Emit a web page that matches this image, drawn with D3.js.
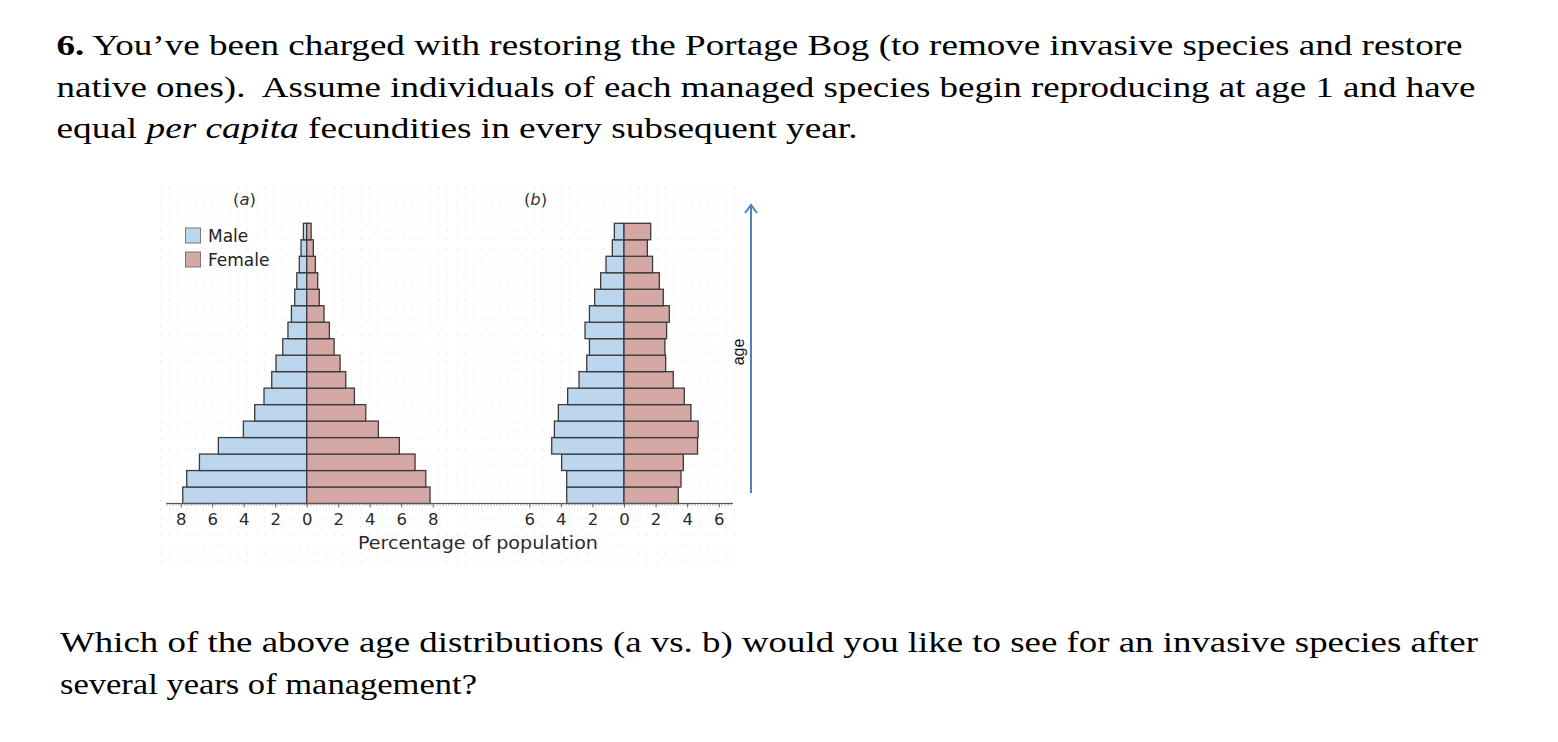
<!DOCTYPE html>
<html>
<head>
<meta charset="utf-8">
<script src="https://cdn.jsdelivr.net/npm/d3@7/dist/d3.min.js"></script>
<style>
  html, body { margin: 0; padding: 0; background: #fff; }
  svg { display: block; }
</style>
</head>
<body>
<svg id="chart" width="1558" height="742"></svg>
<script>
// ---------- data (percentage of population per age class, youngest first) ----------
const ageClasses = d3.range(1, 18).map(String);
const maleA   = [7.87, 7.62, 6.81, 5.61, 4.02, 3.30, 2.71, 2.22, 1.95, 1.52, 1.19, 0.97, 0.76, 0.63, 0.47, 0.36, 0.21];
const femaleA = [7.83, 7.56, 6.88, 5.88, 4.55, 3.75, 3.03, 2.48, 2.12, 1.74, 1.44, 1.10, 0.80, 0.70, 0.55, 0.42, 0.28];
const maleB   = [3.63, 3.63, 3.95, 4.58, 4.41, 4.16, 3.57, 2.85, 2.36, 2.19, 2.47, 2.19, 1.86, 1.48, 1.14, 0.74, 0.61];
const femaleB = [3.44, 3.61, 3.76, 4.66, 4.70, 4.24, 3.82, 3.12, 2.64, 2.59, 2.70, 2.87, 2.49, 2.24, 1.81, 1.48, 1.69];
const ticksA = [-8, -6, -4, -2, 0, 2, 4, 6, 8];
const ticksB = [-6, -4, -2, 0, 2, 4, 6];
const legendItems = ["Male", "Female"];
const panelLabels = ["(a)", "(b)"];
const axisTitle = "Percentage of population";

const questionTop = [
  [{t: "6.", w: "bold"}, {t: " You’ve been charged with restoring the Portage Bog (to remove invasive species and restore"}],
  [{t: "native ones).  Assume individuals of each managed species begin reproducing at age 1 and have"}],
  [{t: "equal "}, {t: "per capita", s: "italic"}, {t: " fecundities in every subsequent year."}]
];
const questionBottom = [
  "Which of the above age distributions (a vs. b) would you like to see for an invasive species after",
  "several years of management?"
];

// ---------- styles ----------
const maleColor = "#bcd6ee";
const femaleColor = "#d5a7a5";
const barStroke = "#3b3b3b";
const sans = "'DejaVu Sans', sans-serif";
const serif = "'Liberation Serif', 'Times New Roman', serif";

const svg = d3.select("#chart");

// ---------- question text ----------
const topLines = [{y: 54.5, w: 1406}, {y: 96.5, w: 1419}, {y: 137.5, w: 801}];
questionTop.forEach((parts, i) => {
  const t = svg.append("text")
    .attr("x", 56.5).attr("y", topLines[i].y)
    .attr("font-family", serif).attr("font-size", 30)
    .attr("fill", "#000")
    .style("white-space", "pre")
    .attr("textLength", topLines[i].w).attr("lengthAdjust", "spacingAndGlyphs");
  parts.forEach(p => {
    t.append("tspan").text(p.t)
      .attr("font-weight", p.w || "normal")
      .attr("font-style", p.s || "normal");
  });
});
const bottomLines = [{y: 652, w: 1418}, {y: 693.5, w: 417}];
questionBottom.forEach((line, i) => {
  svg.append("text")
    .attr("x", 60).attr("y", bottomLines[i].y)
    .attr("font-family", serif).attr("font-size", 30)
    .attr("fill", "#000")
    .attr("textLength", bottomLines[i].w).attr("lengthAdjust", "spacingAndGlyphs")
    .text(line);
});

// ---------- dotted figure background ----------
const defs = svg.append("defs");
const pat = defs.append("pattern")
  .attr("id", "dots").attr("patternUnits", "userSpaceOnUse")
  .attr("x", 160).attr("y", 187)
  .attr("width", 8.7).attr("height", 8.7);
pat.append("rect").attr("x", 0).attr("y", 0).attr("width", 1).attr("height", 1).attr("fill", "#d2d2d2");
svg.append("rect")
  .attr("x", 160).attr("y", 187).attr("width", 576).attr("height", 378)
  .attr("fill", "url(#dots)");

// ---------- scales ----------
const xA = d3.scaleLinear().domain([-8, 8]).range([180.7, 432.7]);
const xB = d3.scaleLinear().domain([-6, 6]).range([529.3, 718.7]);
const y = d3.scaleBand().domain(ageClasses).range([503.5, 223.3]).padding(0);

function pyramid(x, male, female) {
  const g = svg.append("g");
  g.selectAll("rect.m").data(male).join("rect")
    .attr("class", "m")
    .attr("x", d => x(-d)).attr("width", d => x(0) - x(-d))
    .attr("y", (d, i) => y(ageClasses[i])).attr("height", y.bandwidth())
    .attr("fill", maleColor).attr("stroke", barStroke).attr("stroke-width", 1.3);
  g.selectAll("rect.f").data(female).join("rect")
    .attr("class", "f")
    .attr("x", x(0)).attr("width", d => x(d) - x(0))
    .attr("y", (d, i) => y(ageClasses[i])).attr("height", y.bandwidth())
    .attr("fill", femaleColor).attr("stroke", barStroke).attr("stroke-width", 1.3);
}
pyramid(xA, maleA, femaleA);
pyramid(xB, maleB, femaleB);

// ---------- ruler-like baseline ----------
const axisY = y.range()[0];
const axisLeft = xA(-8.9), axisRight = xB(6.9);
svg.append("line")
  .attr("x1", axisLeft).attr("x2", axisRight).attr("y1", axisY + 0.5).attr("y2", axisY + 0.5)
  .attr("stroke", "#8a8a8a").attr("stroke-width", 3).attr("stroke-dasharray", "1,2");
svg.append("line")
  .attr("x1", axisLeft).attr("x2", axisRight).attr("y1", axisY).attr("y2", axisY)
  .attr("stroke", "#555").attr("stroke-width", 1.2);

function drawAxis(x, ticks) {
  const ax = d3.axisBottom(x).tickValues(ticks).tickSize(4).tickPadding(6)
    .tickFormat(d => Math.abs(d));
  const g = svg.append("g").attr("transform", `translate(0,${axisY})`).call(ax);
  g.select(".domain").remove();
  g.selectAll(".tick line").attr("stroke", "#666").attr("stroke-width", 1);
  g.selectAll(".tick text").attr("font-family", sans).attr("font-size", 16.5).attr("fill", "#2a2a2a");
}
drawAxis(xA, ticksA);
drawAxis(xB, ticksB);

svg.append("text")
  .attr("x", 478).attr("y", 549)
  .attr("text-anchor", "middle")
  .attr("font-family", sans).attr("font-size", 17).attr("fill", "#2a2a2a")
  .attr("textLength", 240).attr("lengthAdjust", "spacingAndGlyphs")
  .text(axisTitle);

// ---------- panel labels ----------
[[xA, -3.95], [xB, -5.6]].forEach((p, i) => {
  const t = svg.append("text")
    .attr("x", p[0](p[1])).attr("y", 205)
    .attr("text-anchor", "middle")
    .attr("font-family", sans).attr("font-size", 16.5).attr("fill", "#333");
  t.append("tspan").text("(");
  t.append("tspan").attr("font-style", "italic").text(panelLabels[i].slice(1, 2));
  t.append("tspan").text(")");
});

// ---------- legend ----------
const legend = svg.append("g");
legendItems.forEach((name, i) => {
  legend.append("rect")
    .attr("x", 185.5).attr("y", 228 + i * 24).attr("width", 15).attr("height", 15)
    .attr("fill", i === 0 ? maleColor : femaleColor).attr("stroke", "#777").attr("stroke-width", 1);
  legend.append("text")
    .attr("x", 208).attr("y", 241.5 + i * 24)
    .attr("font-family", sans).attr("font-size", 17).attr("fill", "#222")
    .text(name);
});

// ---------- age arrow ----------
const arrowColor = "#4f81bd";
svg.append("line")
  .attr("x1", 751).attr("x2", 751).attr("y1", 493).attr("y2", 206)
  .attr("stroke", arrowColor).attr("stroke-width", 2);
svg.append("path")
  .attr("d", "M745,213 L751,205 L757,213")
  .attr("fill", "none").attr("stroke", arrowColor).attr("stroke-width", 2);
svg.append("text")
  .attr("transform", "translate(744,352) rotate(-90)")
  .attr("text-anchor", "middle")
  .attr("font-family", "'Liberation Sans', Arial, sans-serif").attr("font-size", 16).attr("fill", "#111")
  .text("age");
</script>
</body>
</html>
